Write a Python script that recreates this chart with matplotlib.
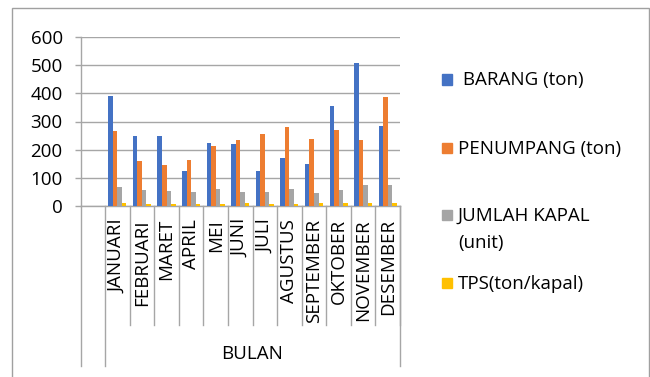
import matplotlib.pyplot as plt
import matplotlib.transforms as mtransforms
from matplotlib.patches import Rectangle
import numpy as np

plt.rcParams['font.family'] = ['Open Sans', 'DejaVu Sans']

months = ["", "JANUARI", "FEBRUARI", "MARET", "APRIL", "MEI", "JUNI", "JULI",
          "AGUSTUS", "SEPTEMBER", "OKTOBER", "NOVEMBER", "DESEMBER"]
group_label = "BULAN"
series_names = [" BARANG (ton)", "PENUMPANG (ton)", "JUMLAH KAPAL\n(unit)", "TPS(ton/kapal)"]
colors = ["#4472C4", "#ED7D31", "#A5A5A5", "#FFC000"]

barang = [np.nan, 390, 250, 250, 124, 225, 219, 124, 170, 149, 354, 510, 284]
penumpang = [np.nan, 266, 158, 145, 162, 212, 234, 255, 282, 238, 270, 234, 386]
jumlah_kapal = [np.nan, 65, 56, 53, 49, 58, 50, 50, 58, 45, 55, 74, 75]
tps = [np.nan, 9, 6, 6, 5, 6, 8, 6, 6, 8, 9, 9, 8]
values = [barang, penumpang, jumlah_kapal, tps]

W, H = 650, 377
y0_px, ytop_px = 205.7, 37.3
x_left, x_right = 80.5, 400

fig = plt.figure(figsize=(W / 100, H / 100), dpi=100)
ax = fig.add_axes([x_left / W, 1 - y0_px / H, (x_right - x_left) / W, (y0_px - ytop_px) / H])


def fy(py):
    # pixel row -> axes fraction
    return (y0_px - py) / (y0_px - ytop_px)


grid_c = "#a6a6a6"
x = np.arange(len(months))
w = 0.184
for k, (vals, c) in enumerate(zip(values, colors)):
    ax.bar(x + (k - 1.5) * w, vals, width=w, color=c, zorder=3)

ax.set_xlim(-0.5, len(months) - 0.5)
ax.set_ylim(0, 600)
ax.set_yticks(np.arange(0, 601, 100))
ax.yaxis.grid(True, color=grid_c, lw=1)
ax.set_axisbelow(True)
ax.set_xticks([])
ax.tick_params(axis='y', direction='out', length=4.3, width=1, color=grid_c,
               pad=8.5, labelsize=13.5)
for s in ['top', 'right']:
    ax.spines[s].set_visible(False)
for s in ['left', 'bottom']:
    ax.spines[s].set_color(grid_c)
    ax.spines[s].set_linewidth(1)

trans = mtransforms.blended_transform_factory(ax.transData, ax.transAxes)
# month separators
for i in range(1, len(months)):
    ax.plot([i + 0.5, i + 0.5], [0, fy(325)], color=grid_c, lw=1, transform=trans, clip_on=False)
# outer lines of the multi-level axis
for xv in [-0.5, 0.5, len(months) - 0.5]:
    ax.plot([xv, xv], [0, fy(366)], color=grid_c, lw=1, transform=trans, clip_on=False)

for i, m in enumerate(months):
    if m:
        ax.text(i, fy(219), m, rotation=90, ha='center', va='top', fontsize=13.5,
                transform=trans)
ax.text((0.5 + len(months) - 0.5) / 2, fy(354), group_label, ha='center', va='center',
        fontsize=13.5, transform=trans)

# legend
leg_y = [79.5, 147.5, 215, 283]
for name, c, py in zip(series_names, colors, leg_y):
    fig.add_artist(Rectangle((442 / W, 1 - (py + 5) / H), 10 / W, 10 / H,
                             transform=fig.transFigure, color=c))
    for j, line in enumerate(name.split("\n")):
        fig.text(458 / W, 1 - (py + 1 + j * 26.7) / H, line, ha='left', va='center',
                 fontsize=13.5)

# chart border
fig.add_artist(Rectangle((12 / W, -0.02), (649 - 12) / W, 1.02 - 8 / H,
                         transform=fig.transFigure, fill=False, ec="#a0a0a0", lw=1))

fig.savefig("out.png", dpi=100)
